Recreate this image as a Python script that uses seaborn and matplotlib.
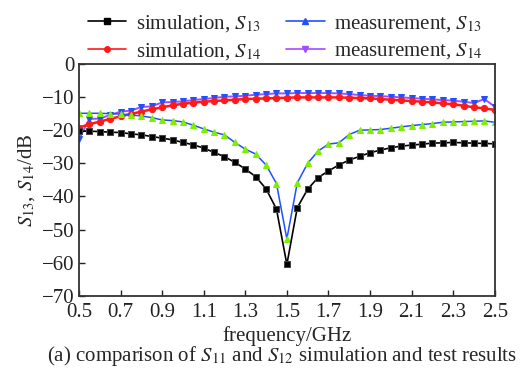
import matplotlib
matplotlib.use("Agg")
import matplotlib.pyplot as plt
from matplotlib.lines import Line2D
import seaborn as sns
import pandas as pd

freq = [0.50, 0.55, 0.60, 0.65, 0.70, 0.75, 0.80, 0.85, 0.90, 0.95,
        1.00, 1.05, 1.10, 1.15, 1.20, 1.25, 1.30, 1.35, 1.40, 1.45,
        1.50, 1.55, 1.60, 1.65, 1.70, 1.75, 1.80, 1.85, 1.90, 1.95,
        2.00, 2.05, 2.10, 2.15, 2.20, 2.25, 2.30, 2.35, 2.40, 2.45, 2.50]

sim_s13 = [-20.3, -20.3, -20.4, -20.6, -20.7, -21.1, -21.4, -21.9, -22.4, -22.9,
           -23.7, -24.4, -25.4, -26.7, -28.0, -29.7, -31.7, -34.0, -37.7, -43.8,
           -60.5, -43.4, -37.8, -34.3, -32.3, -30.5, -29.0, -27.9, -26.8, -26.0,
           -25.3, -24.8, -24.5, -24.2, -23.9, -23.8, -23.7, -23.8, -23.9, -24.0, -24.1]

sim_s14 = [-19.2, -18.2, -17.4, -16.6, -15.8, -15.1, -14.4, -13.7, -13.1, -12.5,
           -12.0, -11.7, -11.4, -11.2, -11.0, -10.8, -10.6, -10.5, -10.4, -10.3,
           -10.2, -10.1, -10.1, -10.1, -10.1, -10.1, -10.2, -10.3, -10.4, -10.6,
           -10.8, -11.0, -11.2, -11.4, -11.6, -11.9, -12.2, -12.6, -13.1, -13.4, -13.9]

meas_s13 = [-14.9, -14.9, -14.9, -15.0, -15.1, -15.4, -15.7, -16.2, -16.9, -17.1,
            -17.5, -18.5, -19.6, -20.6, -21.4, -23.7, -25.7, -27.2, -30.5, -36.1,
            -52.8, -35.9, -30.0, -26.3, -24.2, -23.8, -21.3, -20.0, -19.9, -19.8,
            -19.4, -19.0, -18.6, -18.3, -18.0, -17.6, -17.5, -17.4, -17.3, -17.2, -17.6]

meas_s14 = [-22.7, -16.6, -16.5, -15.4, -14.4, -14.1, -13.0, -12.8, -11.6, -11.5,
            -11.3, -10.9, -10.6, -10.3, -9.9, -9.8, -9.6, -9.3, -9.1, -8.9,
            -8.9, -8.8, -8.8, -8.8, -8.8, -8.9, -9.1, -9.4, -9.6, -9.7,
            -9.9, -10.1, -10.3, -10.5, -10.7, -10.9, -11.1, -11.4, -11.8, -10.6, -12.9]

x_ticks = [0.5, 0.7, 0.9, 1.1, 1.3, 1.5, 1.7, 1.9, 2.1, 2.3, 2.5]
y_ticks = [-70, -60, -50, -40, -30, -20, -10, 0]

labels = [r"simulation, $S_{13}$", r"simulation, $S_{14}$",
          r"measurement, $S_{13}$", r"measurement, $S_{14}$"]

sns.set_theme(style="white")
plt.rcParams["font.family"] = ["Liberation Serif", "DejaVu Serif"]
plt.rcParams["mathtext.fontset"] = "stix"
plt.rcParams["axes.unicode_minus"] = True

FS = 15

df = pd.DataFrame({"freq": freq, "sim_s13": sim_s13, "sim_s14": sim_s14,
                   "meas_s13": meas_s13, "meas_s14": meas_s14})

fig = plt.figure(figsize=(5.23, 3.76), dpi=100)
ax = fig.add_axes([0.151, 0.213, 0.795, 0.617])

blue = "#2050ff"
purple = "#a24cff"
green = "#7fee00"
red = "#ff1a1a"

sns.lineplot(data=df, x="freq", y="meas_s14", ax=ax, color=purple, lw=1.4,
             marker="v", markersize=5, markerfacecolor=blue, markeredgecolor=blue)
sns.lineplot(data=df, x="freq", y="sim_s14", ax=ax, color=red, lw=1.8,
             marker="o", markersize=4.5, markerfacecolor=red, markeredgecolor=red)
sns.lineplot(data=df, x="freq", y="meas_s13", ax=ax, color=blue, lw=1.1,
             marker="^", markersize=5, markerfacecolor=green, markeredgecolor=green)
sns.lineplot(data=df, x="freq", y="sim_s13", ax=ax, color="black", lw=1.2,
             marker="s", markersize=4, markerfacecolor="black", markeredgecolor="#444444")

ax.set_xlim(0.5, 2.5)
ax.set_ylim(-70, 0)
ax.set_xticks(x_ticks)
ax.set_xticklabels([f"{v:.1f}" for v in x_ticks])
ax.set_yticks(y_ticks)
ax.set_yticklabels([f"\u2212{-v}" if v < 0 else f"{v}" for v in y_ticks])
ax.tick_params(direction="in", length=4, width=1, labelsize=FS, colors="#222222",
               bottom=True, left=True)
ax.tick_params(axis="x", pad=5)
ax.tick_params(axis="y", pad=3)
for s in ax.spines.values():
    s.set_color("#333333")
    s.set_linewidth(1.3)
ax.set_xlabel("frequency/GHz", fontsize=FS, labelpad=3)
ax.set_ylabel(r"$S_{13}$, $S_{14}$/dB", fontsize=FS, labelpad=4)

handles = [
    Line2D([], [], color="black", lw=1.2, marker="s", markersize=4),
    Line2D([], [], color=red, lw=1.2, marker="o", markersize=4),
    Line2D([], [], color=blue, lw=1.2, marker="^", markersize=4.5),
    Line2D([], [], color=purple, lw=1.2, marker="v", markersize=4.5),
]
fig.legend(handles, labels, ncol=2, loc="upper center", bbox_to_anchor=(0.545, 1.015),
           frameon=False, fontsize=FS, handlelength=1.85, columnspacing=1.2,
           handletextpad=0.45, labelspacing=0.35)

fig.text(0.54, 0.053, r"(a) comparison of $S_{11}$ and $S_{12}$ simulation and test results",
         ha="center", va="center", fontsize=FS)

fig.savefig("out.png", dpi=100)
